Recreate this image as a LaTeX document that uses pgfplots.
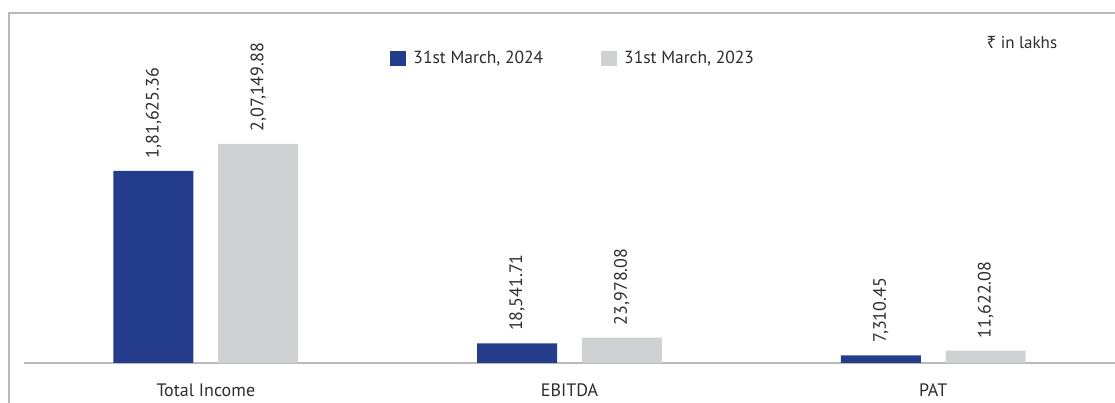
\documentclass[border=0pt]{standalone}
\usepackage{fontspec}
\setmainfont{PT Sans}
\newfontfamily\rupeefont{Noto Sans}
\usepackage{pgfplots}
\pgfplotsset{compat=1.18}
\definecolor{navy}{RGB}{36,60,140}
\definecolor{lgrey}{RGB}{208,209,211}
\definecolor{txt}{RGB}{45,45,45}
\definecolor{framegrey}{RGB}{185,185,185}
\begin{document}
\begin{tikzpicture}[x=1pt,y=1pt]
\useasboundingbox (0,0) rectangle (1115,403);
\draw[framegrey,line width=1.2pt] (9,0) -- (9,390) -- (1115,390);
\begin{axis}[
  at={(24pt,40pt)}, anchor=south west,
  scale only axis, width=1091pt, height=350pt,
  xmin=-0.5, xmax=2.5, ymin=0, ymax=331000,
  axis x line=bottom, axis y line=none,
  x axis line style={draw=framegrey, line width=1.2pt, -},
  xtick={0,1,2}, xticklabels={Total Income, EBITDA, PAT},
  major tick length=0pt,
  xticklabel style={font=\fontsize{18}{20}\selectfont, text=txt, yshift=-17pt},
  ybar, bar width=0.22,
  legend columns=2,
  legend style={draw=none, at={(0.333,0.871)}, anchor=west,
    font=\fontsize{17.5}{20}\selectfont, text=txt,
    /tikz/every even column/.append style={column sep=56pt}},
  legend image code/.code={\fill[#1] (0pt,-7.5pt) rectangle (16pt,7.5pt); \path (21pt,0pt);},
  nodes near coords,
  every node near coord/.append style={rotate=90, anchor=west, font=\fontsize{18}{20}\selectfont, text=txt, xshift=9pt},
]
\addplot[fill=navy, draw=none, bar shift=-0.144,
  point meta=explicit symbolic]
  coordinates {(0,181625.36)[1,81,625.36] (1,18541.71)[18,541.71] (2,7310.45)[7,310.45]};
\addlegendentry{31st March, 2024}
\addplot[fill=lgrey, draw=none, bar shift=0.144,
  point meta=explicit symbolic]
  coordinates {(0,207149.88)[2,07,149.88] (1,23978.08)[23,978.08] (2,11622.08)[11,622.08]};
\addlegendentry{31st March, 2023}
\node[anchor=west, text=txt, font=\fontsize{17}{19}\selectfont] at (rel axis cs:0.879,0.917) {{\rupeefont ₹} in lakhs};
\end{axis}
\end{tikzpicture}
\end{document}
